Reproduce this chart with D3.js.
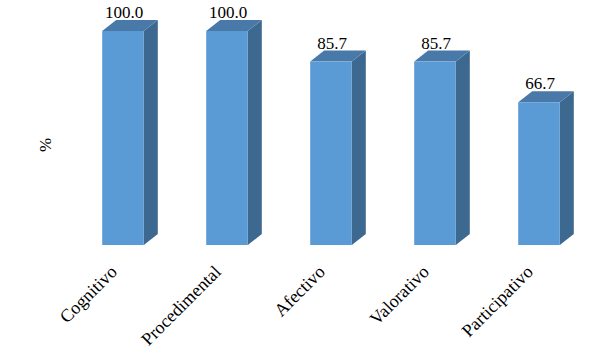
<!DOCTYPE html>
<html>
<head>
<meta charset="utf-8">
<script src="https://cdn.jsdelivr.net/npm/d3@7"></script>
<style>
body{margin:0;background:#fff;}
</style>
</head>
<body>
<script>
// data
var categories=['Cognitivo','Procedimental','Afectivo','Valorativo','Participativo'];
var values=[100.0,100.0,85.7,85.7,66.7];
// layout
var wid=608, hgh=364;
var left=71, right=591; // plot band
var base=245, topy=31; // y of 0 and 100
var depx=14, depy=11; // 3d depth offset
var fnt="Liberation Serif";
var x=d3.scaleBand().domain(categories).range([left,right]).paddingInner(0.6).paddingOuter(0.3);
var y=d3.scaleLinear().domain([0,100]).range([base,topy]);
var svg=d3.select('body').append('svg').attr('width',wid).attr('height',hgh);
var g=svg.selectAll('g.bar').data(categories).enter().append('g').attr('class','bar');
// side face
g.append('path').attr('fill','#3D6990')
 .attr('d',function(d,i){var x1=x(d)+x.bandwidth(),yt=y(values[i]);
   return 'M'+x1+','+yt+'L'+(x1+depx)+','+(yt-depy)+'L'+(x1+depx)+','+(base-depy)+'L'+x1+','+base+'Z';});
// top face
g.append('path').attr('fill','#4879A8')
 .attr('d',function(d,i){var x0=x(d),x1=x0+x.bandwidth(),yt=y(values[i]);
   return 'M'+x0+','+yt+'L'+(x0+depx)+','+(yt-depy)+'L'+(x1+depx)+','+(yt-depy)+'L'+x1+','+yt+'Z';});
// front face
g.append('rect').attr('fill','#5B9BD5')
 .attr('x',function(d){return x(d);}).attr('width',x.bandwidth())
 .attr('y',function(d,i){return y(values[i]);})
 .attr('height',function(d,i){return base-y(values[i]);});
// value labels
g.append('text').attr('text-anchor','middle').attr('font-family',fnt).attr('font-size',17)
 .attr('x',function(d){return x(d)+x.bandwidth()/2+1;})
 .attr('y',function(d,i){return y(values[i])-depy-2;})
 .text(function(d,i){return values[i].toFixed(1);});
// category labels
g.append('text').attr('text-anchor','end').attr('font-family',fnt).attr('font-size',18)
 .attr('transform',function(d){return 'translate('+(x(d)+x.bandwidth()/2-5)+',273) rotate(-45)';})
 .text(function(d){return d;});
// axis title
svg.append('text').attr('text-anchor','middle').attr('font-family',fnt).attr('font-size',17)
 .attr('transform','translate(51,145) rotate(-90)').text('%');
</script>
</body>
</html>
